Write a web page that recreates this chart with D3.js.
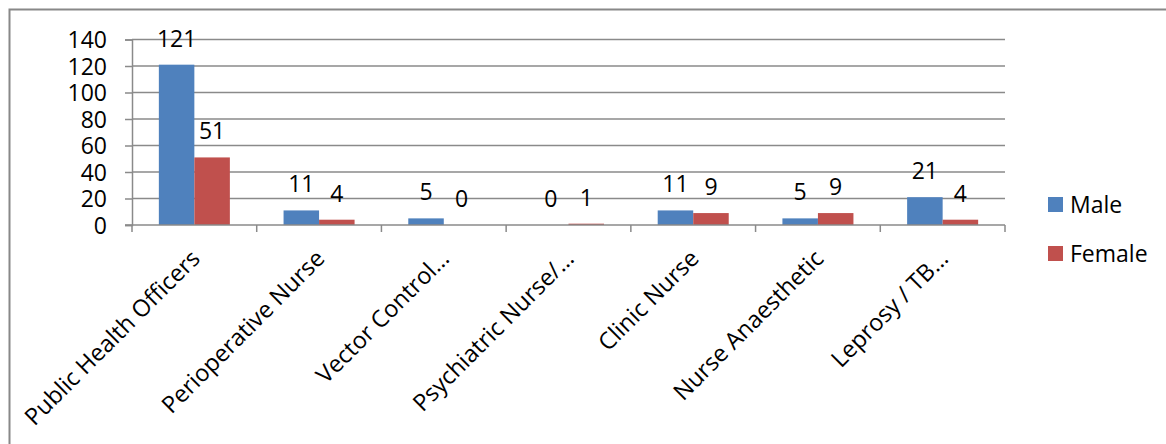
<!DOCTYPE html>
<html>
<head>
<meta charset="utf-8">
<script src="https://cdn.jsdelivr.net/npm/d3@7"></script>
<style>
  html, body { margin: 0; padding: 0; background: #fff; }
  svg { display: block; }
  text { font-family: "Open Sans", sans-serif; fill: #000; }
</style>
</head>
<body>
<svg id="chart" width="1166" height="444"></svg>
<script>
// Staff counts by cadre and sex
const categories = [
  "Public Health Officers",
  "Perioperative Nurse",
  "Vector Control…",
  "Psychiatric Nurse/…",
  "Clinic Nurse",
  "Nurse Anaesthetic",
  "Leprosy / TB…"
];
const seriesNames = ["Male", "Female"];
const maleValues = [121, 11, 5, 0, 11, 5, 21];
const femaleValues = [51, 4, 0, 1, 9, 9, 4];
const yTicks = [0, 20, 40, 60, 80, 100, 120, 140];
const colors = ["#4F81BD", "#C0504D"];

const svg = d3.select("#chart");
const plot = { left: 132, right: 1005, top: 39.5, bottom: 225 };
const fontSize = 23;
const catFontSize = 23.5;
const gridColor = "#8a8a8a";

// Outer chart frame
svg.append("rect")
  .attr("x", 9.5).attr("y", 9.5)
  .attr("width", 1170).attr("height", 450)
  .attr("fill", "none")
  .attr("stroke", "#888")
  .attr("stroke-width", 2);

const x0 = d3.scaleBand().domain(categories).range([plot.left, plot.right]).padding(0);
const x1 = d3.scaleBand().domain(seriesNames).range([0, x0.bandwidth()])
  .paddingInner(0).paddingOuter(0.756);
const y = d3.scaleLinear().domain([0, 140]).range([plot.bottom, plot.top]);

// Horizontal gridlines
svg.append("g").selectAll("line").data(yTicks.filter(d => d > 0)).join("line")
  .attr("x1", plot.left).attr("x2", plot.right)
  .attr("y1", d => y(d)).attr("y2", d => y(d))
  .attr("stroke", gridColor).attr("stroke-width", 1.5);

// Y axis
const yAxis = svg.append("g")
  .attr("transform", `translate(${plot.left},0)`)
  .call(d3.axisLeft(y).tickValues(yTicks).tickSize(7).tickPadding(18).tickFormat(d3.format("d")));
yAxis.select(".domain").attr("stroke", gridColor).attr("stroke-width", 1.5);
yAxis.selectAll(".tick line").attr("stroke", gridColor).attr("stroke-width", 1.5);
yAxis.selectAll(".tick text")
  .attr("font-size", fontSize)
  .attr("font-family", "Open Sans, sans-serif")
  .attr("fill", "#000")
  .attr("dy", "0.36em");

// Bars
const data = categories.map((c, i) => ({
  category: c,
  values: [
    { series: "Male", value: maleValues[i] },
    { series: "Female", value: femaleValues[i] }
  ]
}));
const color = d3.scaleOrdinal().domain(seriesNames).range(colors);

const groups = svg.append("g").selectAll("g").data(data).join("g")
  .attr("transform", d => `translate(${x0(d.category)},0)`);

groups.selectAll("rect").data(d => d.values).join("rect")
  .attr("x", d => x1(d.series))
  .attr("y", d => y(d.value))
  .attr("width", x1.bandwidth())
  .attr("height", d => y(0) - y(d.value))
  .attr("fill", d => color(d.series));

// Value labels
groups.selectAll("text").data(d => d.values).join("text")
  .attr("x", d => x1(d.series) + x1.bandwidth() / 2)
  .attr("y", d => y(d.value) - 18)
  .attr("text-anchor", "middle")
  .attr("font-size", fontSize)
  .text(d => d.value);

// X axis
const xAxis = svg.append("g")
  .attr("transform", `translate(0,${plot.bottom})`);
xAxis.append("line")
  .attr("x1", plot.left - 7).attr("x2", plot.right)
  .attr("y1", 0).attr("y2", 0)
  .attr("stroke", gridColor).attr("stroke-width", 1.5);
const bounds = categories.map(c => x0(c)).concat([plot.right]);
xAxis.selectAll("line.tick").data(bounds).join("line")
  .attr("class", "tick")
  .attr("x1", d => d).attr("x2", d => d)
  .attr("y1", 0).attr("y2", 7)
  .attr("stroke", gridColor).attr("stroke-width", 1.5);
xAxis.selectAll("text").data(categories).join("text")
  .attr("text-anchor", "end")
  .attr("font-size", catFontSize)
  .attr("transform", d => `translate(${x0(d) + x0.bandwidth() / 2 + 7},35) rotate(-45)`)
  .text(d => d);

// Legend
const legend = svg.append("g").selectAll("g").data(seriesNames).join("g")
  .attr("transform", (d, i) => `translate(1048,${197 + i * 49})`);
legend.append("rect")
  .attr("width", 15).attr("height", 15)
  .attr("fill", d => color(d));
legend.append("text")
  .attr("x", 22).attr("y", 16)
  .attr("font-size", fontSize)
  .text(d => d);
</script>
</body>
</html>
